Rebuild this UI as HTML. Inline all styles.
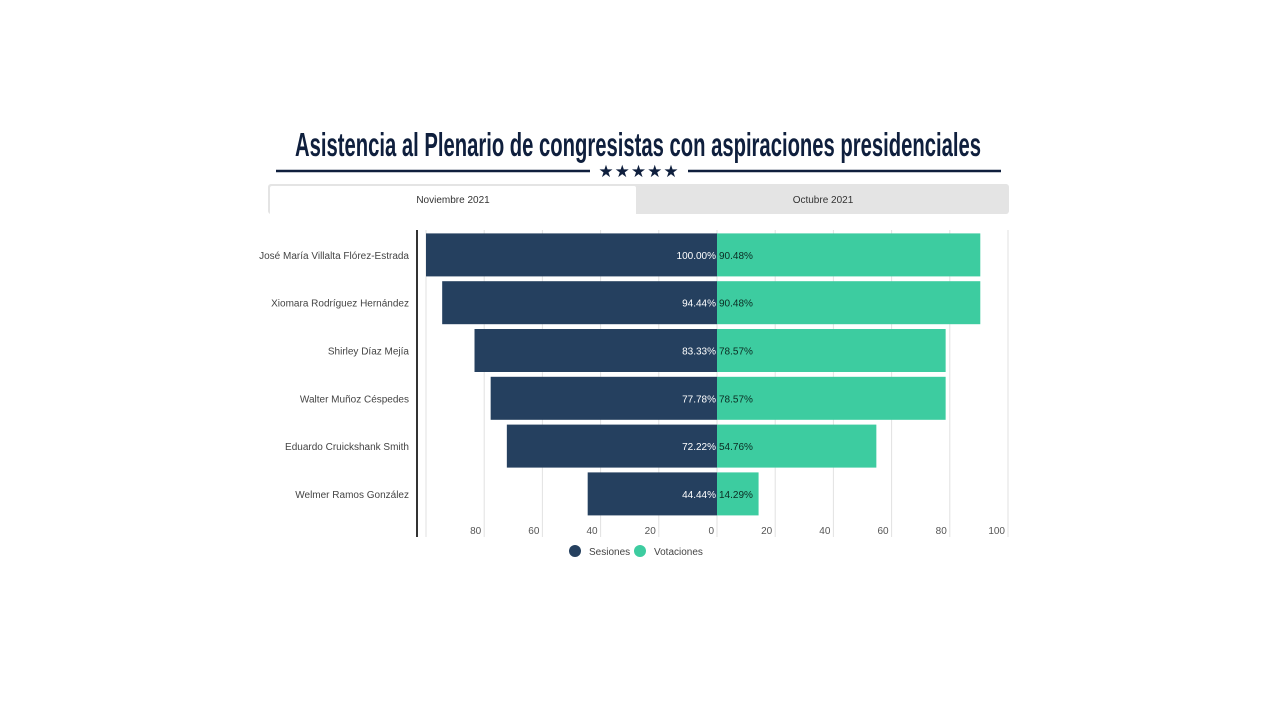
<!DOCTYPE html>
<html><head><meta charset="utf-8"><style>
body{margin:0;width:1280px;height:720px;background:#fff;overflow:hidden;font-family:"Liberation Sans",sans-serif}
</style></head><body>
<svg width="1280" height="720" style="position:absolute;left:0;top:0">
<text x="638" y="156" text-anchor="middle" font-family="Liberation Sans" font-weight="bold" font-size="33" fill="#0f1f3d" textLength="686" lengthAdjust="spacingAndGlyphs">Asistencia al Plenario de congresistas con aspiraciones presidenciales</text>
<line x1="276" y1="171" x2="590" y2="171" stroke="#0f1f3d" stroke-width="2.5"/>
<line x1="688" y1="171" x2="1001" y2="171" stroke="#0f1f3d" stroke-width="2.5"/>
<text x="639" y="177" text-anchor="middle" font-size="17" fill="#0f1f3d" letter-spacing="1">★★★★★</text>
<rect x="268" y="184" width="741" height="30" rx="3" fill="#e4e4e4"/>
<g><rect x="270" y="186" width="366" height="30" rx="2" fill="#fff"/>
<text x="453" y="203" text-anchor="middle" font-size="10" fill="#333">Noviembre 2021</text></g>
<g><text x="823" y="203" text-anchor="middle" font-size="10" fill="#333">Octubre 2021</text></g>
<g id="plot"></g>
<g>
<g><circle cx="575" cy="551" r="6" fill="#25405f"/><text x="589" y="555" font-size="10" fill="#444">Sesiones</text></g>
<g><circle cx="640" cy="551" r="6" fill="#3dcca0"/><text x="654" y="555" font-size="10" fill="#444">Votaciones</text></g>
</g>
</svg>
<script>
const names=["José María Villalta Flórez-Estrada","Xiomara Rodríguez Hernández","Shirley Díaz Mejía","Walter Muñoz Céspedes","Eduardo Cruickshank Smith","Welmer Ramos González"];
const sesiones=[100,94.44,83.33,77.78,72.22,44.44];
const votaciones=[90.48,90.48,78.57,78.57,54.76,14.29];
const leftTicks=[80,60,40,20,0];
const rightTicks=[20,40,60,80,100];
const NS="http://www.w3.org/2000/svg";
const g=document.getElementById('plot');
const x0=717,k=2.91,top0=230,rowH=47.8,barH=43;
const xL=v=>x0-v*k, xR=v=>x0+v*k;
function mk(t,a,p){const e=document.createElementNS(NS,t);for(const n in a)e.setAttribute(n,a[n]);(p||g).appendChild(e);return e;}
[...leftTicks,100].forEach(v=>{const l=mk('line',{x1:xL(v),x2:xL(v),y1:230,y2:537,stroke:'#e2e2e2'});

});
rightTicks.forEach(v=>{const l=mk('line',{x1:xR(v),x2:xR(v),y1:230,y2:537,stroke:'#e2e2e2'});

});
leftTicks.forEach(v=>{const t=mk('text',{x:xL(v)-3,y:534,'text-anchor':'end','font-size':10,fill:'#555'});t.textContent=v;

});
rightTicks.forEach(v=>{const t=mk('text',{x:xR(v)-3,y:534,'text-anchor':'end','font-size':10,fill:'#555'});t.textContent=v;

});
names.forEach((n,i)=>{
const cy=top0+rowH*i+rowH/2+1;
const r1=mk('rect',{x:xL(sesiones[i]),y:cy-barH/2,width:sesiones[i]*k,height:barH,fill:'#25405f'});


const r2=mk('rect',{x:x0,y:cy-barH/2,width:votaciones[i]*k,height:barH,fill:'#3dcca0'});


const t1=mk('text',{x:x0-1,y:cy+4,'text-anchor':'end','font-size':10,fill:'#fff'});t1.textContent=sesiones[i].toFixed(2)+'%';


const t2=mk('text',{x:x0+2,y:cy+4,'font-size':10,fill:'#0b2b22'});t2.textContent=votaciones[i].toFixed(2)+'%';


const t3=mk('text',{x:409,y:cy+4,'text-anchor':'end','font-size':10,fill:'#444'});t3.textContent=n;


});
const ax=mk('line',{x1:417,x2:417,y1:230,y2:537,stroke:'#333','stroke-width':2});


</script>
</body></html>
